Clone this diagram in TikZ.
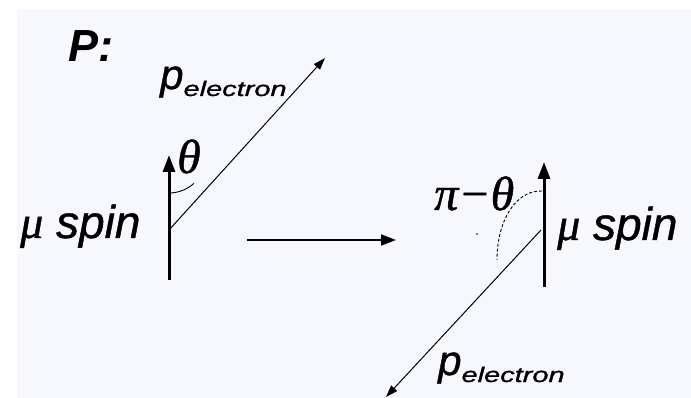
\documentclass[tikz,border=0pt]{standalone}
\usepackage{fontspec}
\usepackage{graphicx}
\setmainfont{Liberation Sans}
\newfontfamily\gk{Liberation Serif}
\usetikzlibrary{arrows.meta}
\definecolor{bgblue}{RGB}{246,248,254}
\newcommand{\fb}{\addfontfeature{FakeBold=0.9}}
\tikzset{
  spinarrow/.style={line width=3pt,-{Triangle[width=12pt,length=17pt]}},
  elarrow/.style={line width=1pt,-{Triangle[width=8pt,length=12pt]}},
  maparrow/.style={line width=2pt,-{Triangle[width=11pt,length=15pt]}},
  lbl/.style={inner sep=0pt,anchor=base west},
  greek/.style={lbl,font=\gk\itshape\fontsize{48}{48}\selectfont\fb},
}
\newcommand{\pel}{{\itshape\fontsize{42}{42}\selectfont\fb p}\raisebox{-7pt}{\scalebox{1.38}[1]{\itshape\fontsize{21}{21}\selectfont\fb electron}}}
\newcommand{\muspin}{{\fontsize{46}{46}\selectfont{\gk\itshape\fb μ}\ {\itshape\fb spin}}}
\begin{document}
\begin{tikzpicture}[x=1pt,y=-1pt]
\useasboundingbox (0,0) rectangle (691,398);
\fill[white] (0,0) rectangle (691,398);
\fill[bgblue] (17,9) rectangle (691,398);
% title
\node[lbl,font=\bfseries\itshape\fontsize{45}{45}\selectfont] (title) at (68,62) {P:};
% left configuration
\coordinate (ls0) at (169,280);
\coordinate (ls1) at (169,155);
\coordinate (lo) at (169,230);
\coordinate (le) at (325,58);
\draw[spinarrow] (ls0) -- (ls1);
\draw[elarrow] (lo) -- (le);
\draw[line width=0.9pt] (169,193) arc[start angle=90,end angle=47.5,radius=37];
\node[greek] (th) at (177,173) {θ};
\node[lbl] (pel1) at (160,89) {\pel};
\node[lbl] (mu1) at (20,238) {\muspin};
% middle arrow
\coordinate (m0) at (247,240);
\coordinate (m1) at (396,240);
\draw[maparrow] (m0) -- (m1);
% right configuration
\coordinate (rs0) at (544,287);
\coordinate (rs1) at (544,162);
\coordinate (ro) at (541,230);
\coordinate (re) at (386,397);
\draw[spinarrow] (rs0) -- (rs1);
\draw[elarrow] (ro) -- (re);
\draw[line width=0.9pt,dash pattern=on 3pt off 2pt] (542,191) .. controls (515,190) and (497,222) .. (497,260);
\fill (477,234) circle[radius=0.8];
\node[greek] (pth) at (434,210) {π−θ};
\node[lbl] (pel2) at (438,375) {\pel};
\node[lbl] (mu2) at (557,240) {\muspin};
\end{tikzpicture}
\end{document}
